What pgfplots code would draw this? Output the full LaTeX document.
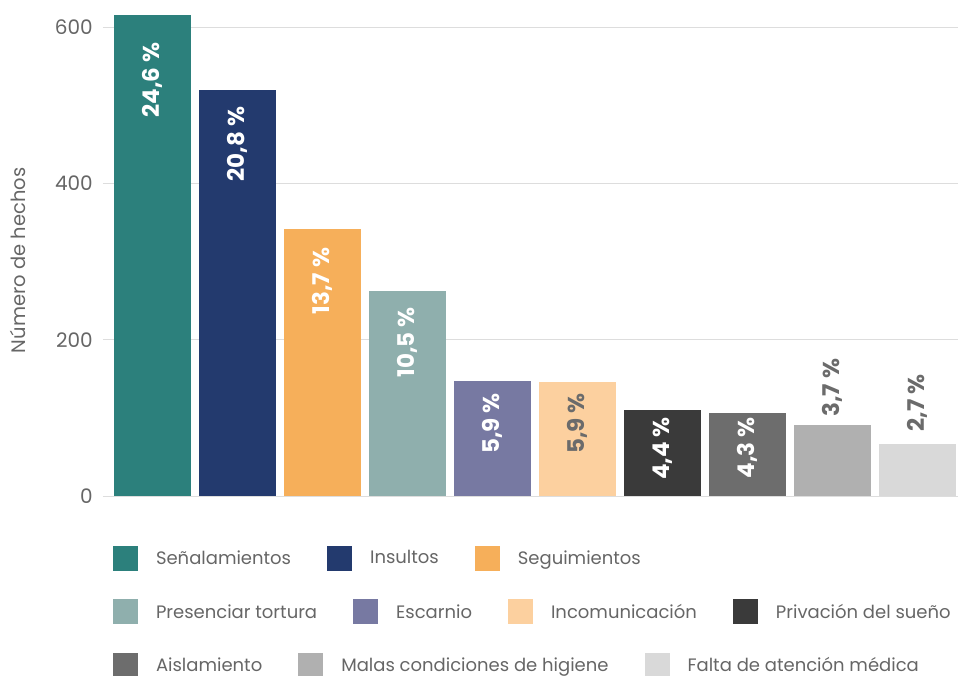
\documentclass[border=0pt]{standalone}
\usepackage{fontspec}
\setmainfont{Poppins}
\usepackage{pgfplots}
\pgfplotsset{compat=1.18}
\definecolor{c1}{HTML}{2C807C}
\definecolor{c2}{HTML}{233A6E}
\definecolor{c3}{HTML}{F6AF5A}
\definecolor{c4}{HTML}{8FAFAD}
\definecolor{c5}{HTML}{7779A2}
\definecolor{c6}{HTML}{FCD09F}
\definecolor{c7}{HTML}{3A3A3A}
\definecolor{c8}{HTML}{6D6D6D}
\definecolor{c9}{HTML}{B0B0B0}
\definecolor{c10}{HTML}{D9D9D9}
\definecolor{txt}{HTML}{666666}
\definecolor{lab}{HTML}{6B6B6B}
\definecolor{gridc}{HTML}{DDDDDD}
\newcommand{\lfont}{\fontsize{18}{21}\selectfont}
\newcommand{\yfont}{\fontsize{19.5}{22}\selectfont}
\newcommand{\tfont}{\fontsize{20}{23}\selectfont}
\newcommand{\bfont}{\bfseries\fontsize{23}{26}\selectfont}
\pgfplotsset{
  inlab/.style={nodes near coords style={white, font=\bfont, inner sep=0pt, yshift=-#1, rotate=90, anchor=east}},
  inlabg/.style={nodes near coords style={lab, font=\bfont, inner sep=0pt, yshift=-#1, rotate=90, anchor=east}},
  outlab/.style={nodes near coords style={lab, font=\bfont, inner sep=0pt, yshift=#1, rotate=90, anchor=west}},
  legaxis/.style={hide axis, scale only axis, width=855pt, height=480.7pt, at={(0pt,0pt)}, anchor=south west,
    xmin=0, xmax=1, ymin=0, ymax=1,
    legend image code/.code={\fill[##1] (0pt,-12.5pt) rectangle (25pt,12.5pt);},
    legend style={draw=none, fill=none, inner sep=0pt, outer sep=0pt, legend columns=-1, anchor=west,
      font=\lfont, text=txt, legend cell align=left,
      nodes={inner sep=0pt},
      /tikz/every odd column/.append style={column sep=18pt},
      /tikz/every even column/.append style={column sep=36pt}}},
}
\begin{document}
\begin{tikzpicture}
\begin{axis}[
  scale only axis, width=855pt, height=480.7pt, at={(0pt,0pt)}, anchor=south west,
  ybar, bar width=77pt, bar shift=0pt,
  xmin=-0.5824, xmax=9.4765, ymin=0, ymax=615,
  xtick=\empty, ytick={0,200,400,600},
  ymajorgrids, grid style={gridc, line width=0.8pt},
  axis line style={draw=none}, major tick length=0pt,
  /pgf/number format/assume math mode=true,
  yticklabel style={font=\tfont, text=txt, inner xsep=0pt, xshift=-10pt},
  ylabel={Número de hechos},
  ylabel style={font=\yfont, text=txt, at={(axis description cs:-0.0994,0.49)}, anchor=center},
  clip=false,
]
\addplot[fill=c1, draw=none, nodes near coords={24,6 \%}, inlab=27pt] coordinates {(0,615)};
\addplot[fill=c2, draw=none, nodes near coords={20,8 \%}, inlab=17pt] coordinates {(1,520)};
\addplot[fill=c3, draw=none, nodes near coords={13,7 \%}, inlab=19pt] coordinates {(2,342)};
\addplot[fill=c4, draw=none, nodes near coords={10,5 \%}, inlab=16pt] coordinates {(3,262)};
\addplot[fill=c5, draw=none, nodes near coords={5,9 \%}, inlab=12pt] coordinates {(4,147)};
\addplot[fill=c6, draw=none, nodes near coords={5,9 \%}, inlabg=11pt] coordinates {(5,146)};
\addplot[fill=c7, draw=none, nodes near coords={4,4 \%}, inlab=7pt] coordinates {(6,110)};
\addplot[fill=c8, draw=none, nodes near coords={4,3 \%}, inlab=4pt] coordinates {(7,106)};
\addplot[fill=c9, draw=none, nodes near coords={3,7 \%}, outlab=8pt] coordinates {(8,91)};
\addplot[fill=c10, draw=none, nodes near coords={2,7 \%}, outlab=12pt] coordinates {(9,67)};
\end{axis}
\begin{axis}[legaxis, legend style={at={(axis description cs:0.0117,-0.129)}}]
\addlegendimage{fill=c1, draw=none}\addlegendentry{Señalamientos}
\addlegendimage{fill=c2, draw=none}\addlegendentry{Insultos}
\addlegendimage{fill=c3, draw=none}\addlegendentry{Seguimientos}
\end{axis}
\begin{axis}[legaxis, legend style={at={(axis description cs:0.0117,-0.2413)}}]
\addlegendimage{fill=c4, draw=none}\addlegendentry{Presenciar tortura}
\addlegendimage{fill=c5, draw=none}\addlegendentry{Escarnio}
\addlegendimage{fill=c6, draw=none}\addlegendentry{Incomunicación}
\addlegendimage{fill=c7, draw=none}\addlegendentry{Privación del sueño}
\end{axis}
\begin{axis}[legaxis, legend style={at={(axis description cs:0.0117,-0.3516)}}]
\addlegendimage{fill=c8, draw=none}\addlegendentry{Aislamiento}
\addlegendimage{fill=c9, draw=none}\addlegendentry{Malas condiciones de higiene}
\addlegendimage{fill=c10, draw=none}\addlegendentry{Falta de atención médica}
\end{axis}
\pgfresetboundingbox
\path[use as bounding box] (-103pt,-180pt) rectangle (855pt,496pt);
\end{tikzpicture}
\end{document}
